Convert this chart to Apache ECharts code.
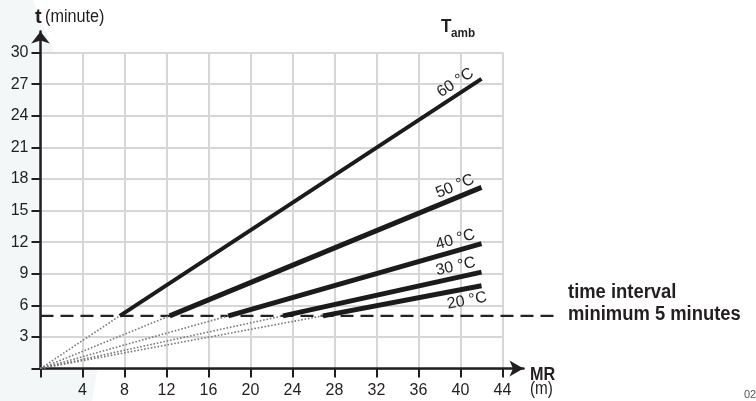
<!DOCTYPE html>
<html><head><meta charset="utf-8">
<script src="https://cdn.jsdelivr.net/npm/echarts@6/dist/echarts.min.js"></script>
<style>html,body{margin:0;padding:0;background:#fff}#c{width:756px;height:401px}</style>
</head><body><div id="c"></div>
<script>
const temps = ['20 °C', '30 °C', '40 °C', '50 °C', '60 °C'];
const startMR = [26.9, 23.1, 17.9, 12.3, 7.55];
const endMR = [42, 42, 42, 42, 42];
const endT = [7.85, 9.15, 11.85, 17.2, 27.5];
const minT = 5;
const thresholdEndMR = 49.5;
const xMax = 44, xInterval = 4;
const yMax = 30, yInterval = 3;

const FONT = "'Liberation Sans', Arial, sans-serif";
const INK = '#231f20';
const G = {left: 40.5, top: 52.5, width: 462, height: 316};
const pxX = G.width / xMax, pxY = G.height / yMax;
const G2 = {left: G.left, width: 46 * pxX, height: 32 * pxY};
G2.top = G.top + G.height - G2.height;
const G3 = {left: G.left, top: G.top, height: G.height, width: 50 * pxX};

const series = [];
series.push({
  type: 'line', xAxisIndex: 2, yAxisIndex: 2, z: 2,
  data: [[0, minT], [thresholdEndMR, minT]], symbol: 'none',
  lineStyle: {color: '#222', width: 2.3, type: [13, 7]}, silent: true
});
temps.forEach((t, i) => {
  series.push({
    type: 'line', xAxisIndex: 0, yAxisIndex: 0, z: 3,
    data: [[0, 0], [startMR[i], minT]], symbol: 'none',
    lineStyle: {color: '#7a7a7a', width: 1.6, type: [1.6, 1.8]}, silent: true
  });
  const ang = Math.atan2((endT[i] - minT) * pxY, (endMR[i] - startMR[i]) * pxX) * 180 / Math.PI;
  const below = i === 0;
  series.push({
    type: 'line', xAxisIndex: 0, yAxisIndex: 0, z: 4,
    symbol: 'circle', symbolSize: 0.1, showSymbol: true,
    lineStyle: {color: '#1b1b1b', width: i === 4 ? 4 : 5, cap: 'butt'},
    itemStyle: {color: 'transparent'},
    data: [[startMR[i], minT], {
      value: [endMR[i], endT[i]],
      label: {
        show: true, formatter: t, position: 'inside', rotate: ang,
        align: 'right', verticalAlign: below ? 'top' : 'bottom',
        padding: below ? [4, -3, 0, 0] : [0, 4, 3, 0],
        fontFamily: FONT, fontSize: 16, color: INK
      }
    }],
    silent: true
  });
});

function txt(x, y, text, size, bold, sx) {
  return {type: 'text', x: x, y: y, scaleX: sx, silent: true,
    style: {text: text, fontFamily: FONT, fontSize: size, fontWeight: bold ? 'bold' : 'normal',
            fill: INK, textAlign: 'left', textVerticalAlign: 'top'}};
}
const hiddenAxis = {axisLine: {show: false}, axisTick: {show: false}, axisLabel: {show: false}, splitLine: {show: false}};

const opt = {
  animation: false,
  backgroundColor: '#fff',
  grid: [
    Object.assign({show: true, backgroundColor: '#fff', borderWidth: 0}, G),
    Object.assign({show: false}, G2),
    Object.assign({show: false}, G3)
  ],
  xAxis: [
    {type: 'value', gridIndex: 0, min: 0, max: xMax, interval: xInterval,
     axisLine: {show: false},
     axisTick: {show: true, length: 9, lineStyle: {color: INK, width: 2}},
     axisLabel: {margin: 14, fontFamily: FONT, fontSize: 16, color: INK,
                 formatter: v => v === 0 ? '' : v},
     splitLine: {show: true, lineStyle: {color: '#d6d6d6', width: 2}}},
    {type: 'value', gridIndex: 1, min: 0, max: 46,
     axisLine: {show: true, symbol: ['none', 'arrow'], symbolSize: [12, 14], symbolOffset: [0, 0],
                lineStyle: {color: INK, width: 2.5}},
     axisTick: {show: false}, axisLabel: {show: false}, splitLine: {show: false}},
    Object.assign({type: 'value', gridIndex: 2, min: 0, max: 50}, hiddenAxis)
  ],
  yAxis: [
    {type: 'value', gridIndex: 0, min: 0, max: yMax, interval: yInterval,
     axisLine: {show: false},
     axisTick: {show: true, length: 9, lineStyle: {color: INK, width: 2}},
     axisLabel: {margin: 12, fontFamily: FONT, fontSize: 16, color: INK,
                 formatter: v => v === 0 ? '' : v},
     splitLine: {show: true, lineStyle: {color: '#d6d6d6', width: 2}}},
    {type: 'value', gridIndex: 1, min: 0, max: 32,
     axisLine: {show: true, symbol: ['none', 'arrow'], symbolSize: [14, 12], symbolOffset: [0, 0],
                lineStyle: {color: INK, width: 2.5}},
     axisTick: {show: false}, axisLabel: {show: false}, splitLine: {show: false}},
    Object.assign({type: 'value', gridIndex: 2, min: 0, max: yMax}, hiddenAxis)
  ],
  series: series,
  graphic: [
    {type: 'polygon', z: -100, silent: true,
     shape: {points: [[0, 0], [33, 0], [55, 55], [88, 300], [97, 372], [92, 401], [0, 401]]},
     style: {fill: '#f3f7f8'}},
    txt(35, 7, 't', 20, true, 1),
    txt(45, 8, '(minute)', 18, false, 0.9),
    txt(441, 17, 'T', 19, true, 0.9),
    txt(451, 27, 'amb', 13, true, 0.9),
    txt(530, 366, 'MR', 18, true, 0.9),
    txt(530, 380, '(m)', 18, false, 0.85),
    txt(568, 282, 'time interval', 20, true, 0.92),
    txt(568, 304, 'minimum 5 minutes', 20, true, 0.92),
    {type: 'text', x: 744, y: 389, silent: true,
     style: {text: '02', fontFamily: FONT, fontSize: 11, fill: '#555', textAlign: 'left', textVerticalAlign: 'top'}}
  ]
};
echarts.init(document.getElementById('c'), null, {renderer: 'canvas'}).setOption(opt);
</script></body></html>
